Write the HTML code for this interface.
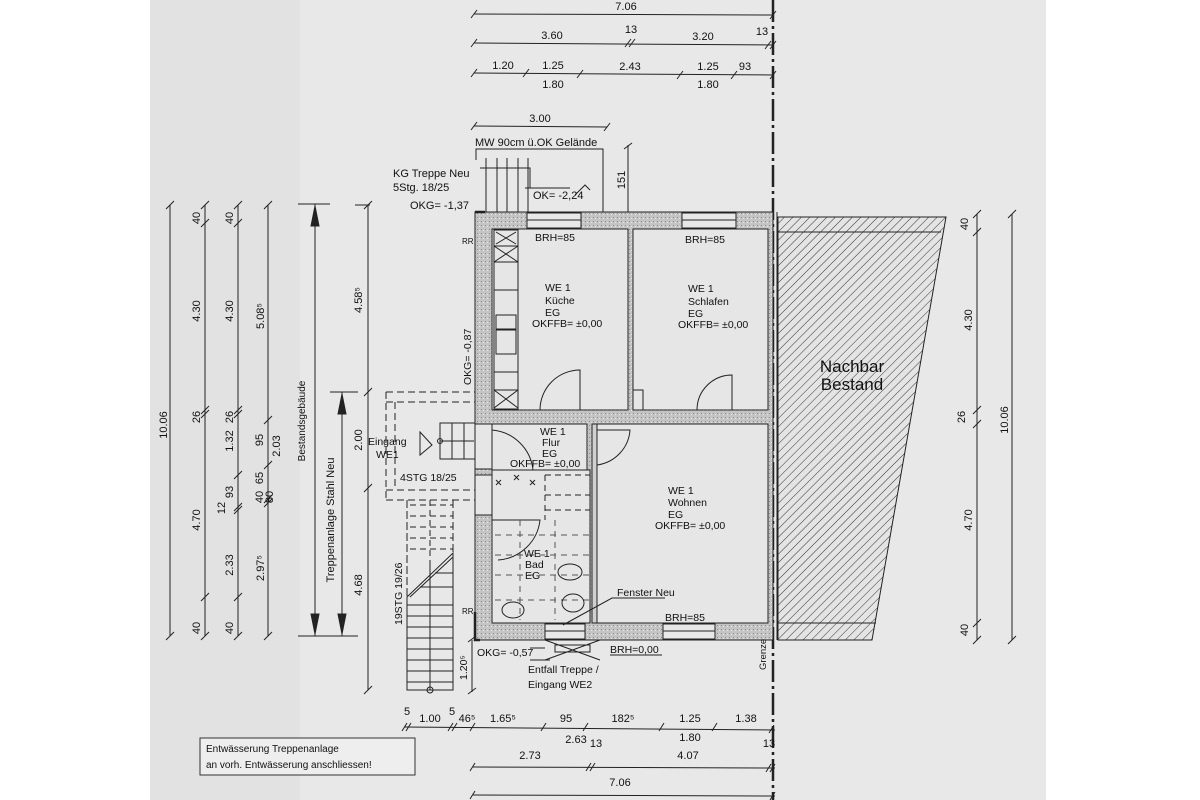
<!DOCTYPE html>
<html><head><meta charset="utf-8"><style>
html,body{margin:0;padding:0;background:#fff;}
svg{display:block;}
text{font-family:"Liberation Sans",sans-serif;fill:#111;}
</style></head><body>
<svg width="1200" height="800" viewBox="0 0 1200 800" xmlns="http://www.w3.org/2000/svg">
<defs>
<pattern id="hatch" width="6" height="6" patternUnits="userSpaceOnUse" patternTransform="rotate(45)">
<rect width="6" height="6" fill="#e4e4e4"/><line x1="0" y1="0" x2="0" y2="6" stroke="#333" stroke-width="1"/></pattern>
<pattern id="stip" width="4" height="4" patternUnits="userSpaceOnUse">
<rect width="4" height="4" fill="#c4c4c4"/><rect x="1" y="1" width="1" height="1" fill="#8a8a8a"/><rect x="3" y="2" width="1" height="1" fill="#e6e6e6"/></pattern>
</defs>
<rect x="0" y="0" width="1200" height="800" fill="#fff"/>
<rect x="150" y="0" width="896" height="800" fill="#e8e8e8"/>
<rect x="150" y="0" width="150" height="800" fill="#e2e2e2"/>

<g stroke="#222" stroke-width="1" fill="none">
<line x1="474" y1="14" x2="773" y2="15"/>
<line x1="474" y1="43" x2="773" y2="45"/>
<line x1="474" y1="73" x2="773" y2="75"/>
<path d="M471,18l6,-8M770,19l6,-8M471,47l6,-8M625,47l6,-8M629,47l6,-8M765,49l6,-8M770,49l6,-8M471,77l6,-8M523,77l6,-8M577,78l6,-8M677,79l6,-8M731,79l6,-8M770,79l6,-8"/>
<line x1="474" y1="126" x2="607" y2="127"/>
<path d="M471,130l6,-8M604,131l6,-8"/>
<line x1="628" y1="145" x2="628" y2="212"/>
<path d="M624,149l8,-6"/>
<line x1="773" y1="0" x2="773" y2="800" stroke-width="2.5" stroke-dasharray="22,4,3,4"/>
</g>
<g font-size="11" text-anchor="middle">
<text x="626" y="10">7.06</text>
<text x="552" y="39">3.60</text><text x="631" y="33">13</text><text x="703" y="40">3.20</text><text x="762" y="35">13</text>
<text x="503" y="69">1.20</text><text x="553" y="69">1.25</text><text x="553" y="88">1.80</text><text x="630" y="70">2.43</text><text x="708" y="70">1.25</text><text x="708" y="88">1.80</text><text x="745" y="70">93</text>
<text x="540" y="122">3.00</text>
<text transform="translate(625,180) rotate(-90)">151</text>
</g>

<g stroke="#222" fill="none" stroke-width="1">
<path d="M476,160V149H603V212"/>
<path d="M486,158V212M497,158V212M507,158V212M518,158V212M528,158V212"/>
<path d="M480,168H530V188"/>
<path d="M525,188H570M575,195l10,-10l5,5"/>
</g>
<text x="475" y="146" font-size="11">MW 90cm ü.OK Gelände</text>
<text x="393" y="177" font-size="11">KG Treppe Neu</text>
<text x="393" y="191" font-size="11">5Stg. 18/25</text>
<text x="410" y="209" font-size="11">OKG= -1,37</text>
<text x="533" y="199" font-size="11">OK= -2,24</text>
<text x="462" y="244" font-size="8">RR</text>
<text x="462" y="614" font-size="8">RR</text>

<rect x="475" y="212" width="298" height="428" fill="url(#stip)" stroke="#222"/>
<g fill="#e6e6e6" stroke="#222" stroke-width="1">
<rect x="492" y="229" width="136" height="181"/>
<rect x="633" y="229" width="135" height="181"/>
<rect x="492" y="424" width="95" height="46"/>
<rect x="492" y="470" width="98" height="153"/>
<rect x="597" y="424" width="171" height="199"/>
<rect x="475" y="424" width="17" height="45"/>
<rect x="475" y="475" width="17" height="40"/>
<rect x="592" y="424" width="5" height="199" fill="#d0d0d0"/>
</g>
<g fill="#e8e8e8" stroke="#222">
<rect x="527" y="213" width="54" height="15"/><line x1="527" y1="220" x2="581" y2="220"/>
<rect x="682" y="213" width="54" height="15"/><line x1="682" y1="220" x2="736" y2="220"/>
<rect x="545" y="624" width="40" height="15"/><line x1="545" y1="631" x2="585" y2="631"/>
<rect x="663" y="624" width="52" height="15"/><line x1="663" y1="631" x2="715" y2="631"/>
</g>
<g stroke="#222" fill="none">
<rect x="494" y="230" width="24" height="179"/>
<path d="M494,246H518M494,262H518M494,290H518M494,372H518M494,390H518"/>
<path d="M494,246L518,262M518,246L494,262M494,390L518,408M518,390L494,408M496,232L516,244M516,232L496,244"/>
<rect x="496" y="315" width="20" height="14"/><rect x="496" y="330" width="20" height="24"/>
<path d="M540,410A40,40 0 0 1 580,370V410"/>
<path d="M697,410A35,35 0 0 1 732,375V410"/>
<path d="M492,430A45,45 0 0 1 533,470"/>
<path d="M597,465A38,38 0 0 0 630,430H597"/>
<path d="M492,520H540A45,45 0 0 1 498,560"/>
<rect x="633" y="390" width="10" height="20"/>
<path d="M545,475H590M545,475V520M545,495H590M545,510H590" stroke-dasharray="6,4"/>
<path d="M495,535H590M495,555H590M495,575H590M495,600H590M520,520V620M555,520V620" stroke-dasharray="6,5" stroke="#555"/>
<ellipse cx="570" cy="572" rx="12" ry="8"/>
<ellipse cx="573" cy="603" rx="11" ry="9"/>
<ellipse cx="513" cy="610" rx="11" ry="8"/>
<path d="M496,480l5,5M501,480l-5,5M514,475l5,5M519,475l-5,5M530,480l5,5M535,480l-5,5"/>
<path d="M563,625L612,598H665"/>
<path d="M545,640L600,660M600,640L545,660M555,645H590V652H555ZM530,648h15M530,660h20"/>
<line x1="610" y1="655" x2="662" y2="655"/>
</g>

<polygon points="778,217 946,217 872,640 778,640" fill="url(#hatch)" stroke="#222"/>
<path d="M778,232H941M778,623H876" stroke="#222"/>
<line x1="777" y1="212" x2="777" y2="640" stroke="#222"/>
<text x="852" y="372" font-size="17" text-anchor="middle">Nachbar</text>
<text x="852" y="390" font-size="17" text-anchor="middle">Bestand</text>

<g font-size="10.5">
<text x="545" y="291">WE 1</text><text x="545" y="304">Küche</text><text x="545" y="316">EG</text><text x="532" y="327">OKFFB= ±0,00</text>
<text x="688" y="292">WE 1</text><text x="688" y="305">Schlafen</text><text x="688" y="317">EG</text><text x="678" y="328">OKFFB= ±0,00</text>
<text x="540" y="435">WE 1</text><text x="542" y="446">Flur</text><text x="542" y="457">EG</text><text x="510" y="467">OKFFB= ±0,00</text>
<text x="668" y="494">WE 1</text><text x="668" y="506">Wohnen</text><text x="668" y="518">EG</text><text x="655" y="529">OKFFB= ±0,00</text>
<text x="524" y="557">WE 1</text><text x="525" y="568">Bad</text><text x="525" y="579">EG</text>
<text x="535" y="241">BRH=85</text><text x="685" y="243">BRH=85</text><text x="665" y="621">BRH=85</text>
<text x="617" y="596">Fenster Neu</text>
<text x="477" y="656">OKG= -0,57</text><text x="610" y="653">BRH=0,00</text>
<text x="528" y="673">Entfall Treppe /</text><text x="528" y="688">Eingang WE2</text>
<text transform="translate(471,385) rotate(-90)">OKG= -0,87</text>
<text transform="translate(766,670) rotate(-90)" font-size="9.5">Grenze</text>
<text transform="translate(467,680) rotate(-90)">1.20⁵</text>
<text x="368" y="445">Eingang</text><text x="376" y="458">WE1</text>
<text x="400" y="481">4STG 18/25</text>
<text transform="translate(402,625) rotate(-90)">19STG 19/26</text>
</g>

<g stroke="#222" fill="none">
<path d="M420,432L432,445L420,455Z"/>
<rect x="440" y="423" width="35" height="36"/><path d="M452,423V459M464,423V459M440,441H474"/>
<circle cx="440" cy="441" r="2.5"/>
<path d="M386,392H475M386,402H475M386,490H475M386,500H475M386,392V500M395,402V490" stroke-dasharray="7,4"/>
<path d="M407,500V690M453,500V553" stroke-dasharray="8,3"/>
<path d="M410,505H453M410,516H453M410,527H453M410,538H453M410,549H453M430,500V560" stroke-dasharray="6,4"/>
<path d="M407,597L453,553V690H407Z"/>
<path d="M410,597L453,557"/>
<path d="M407,605H453M407,616H453M407,627H453M407,638H453M407,649H453M407,660H453M407,671H453M407,682H453M420,587H453M435,573H453M430,560V690"/>
<circle cx="430" cy="690" r="3"/>
<path d="M475,612V640H480" stroke-width="2.5"/>
<path d="M475,212H485" stroke-width="2.5"/>
<line x1="472" y1="640" x2="472" y2="692"/><path d="M468,694l8,-6M468,642l8,-6"/>
</g>

<g stroke="#222" fill="none">
<line x1="170" y1="205" x2="170" y2="636"/>
<line x1="205" y1="205" x2="205" y2="636"/>
<line x1="238" y1="205" x2="238" y2="636"/>
<line x1="268" y1="205" x2="268" y2="636"/>
<path d="M166,209l8,-8M166,640l8,-8M201,209l8,-8M201,227l8,-8M201,414l8,-8M201,418l8,-8M201,601l8,-8M201,640l8,-8M234,209l8,-8M234,227l8,-8M234,414l8,-8M234,418l8,-8M234,479l8,-8M234,511l8,-8M234,514l8,-8M234,601l8,-8M234,640l8,-8M264,209l8,-8M264,424l8,-8M264,469l8,-8M264,503l8,-8M264,507l8,-8M264,640l8,-8"/>
<line x1="298" y1="204" x2="330" y2="204"/><line x1="298" y1="636" x2="330" y2="636"/>
<line x1="315" y1="204" x2="315" y2="636"/>
<path d="M311,226L315,206L319,226ZM311,614L315,634L319,614Z" fill="#222"/>
<line x1="330" y1="392" x2="358" y2="392"/><line x1="330" y1="636" x2="358" y2="636"/>
<line x1="342" y1="392" x2="342" y2="636"/>
<path d="M338,414L342,394L346,414ZM338,614L342,634L346,614Z" fill="#222"/>
<line x1="368" y1="205" x2="368" y2="690"/>
<path d="M364,209l8,-8M364,396l8,-8M364,492l8,-8M364,694l8,-8"/>
<line x1="355" y1="205" x2="370" y2="205"/>
</g>
<g font-size="11" text-anchor="middle">
<text transform="translate(167,425) rotate(-90)">10.06</text>
<text transform="translate(200,218) rotate(-90)">40</text>
<text transform="translate(200,311) rotate(-90)">4.30</text>
<text transform="translate(200,417) rotate(-90)">26</text>
<text transform="translate(200,520) rotate(-90)">4.70</text>
<text transform="translate(200,628) rotate(-90)">40</text>
<text transform="translate(233,218) rotate(-90)">40</text>
<text transform="translate(233,311) rotate(-90)">4.30</text>
<text transform="translate(233,417) rotate(-90)">26</text>
<text transform="translate(233,441) rotate(-90)">1.32</text>
<text transform="translate(233,492) rotate(-90)">93</text>
<text transform="translate(225,508) rotate(-90)">12</text>
<text transform="translate(233,565) rotate(-90)">2.33</text>
<text transform="translate(233,628) rotate(-90)">40</text>
<text transform="translate(264,316) rotate(-90)">5.08⁵</text>
<text transform="translate(263,440) rotate(-90)">95</text>
<text transform="translate(280,446) rotate(-90)">2.03</text>
<text transform="translate(263,478) rotate(-90)">65</text>
<text transform="translate(263,497) rotate(-90)">40</text>
<text transform="translate(273,497) rotate(-90)">80</text>
<text transform="translate(264,568) rotate(-90)">2.97⁵</text>
<text transform="translate(305,421) rotate(-90)" font-size="10">Bestandsgebäude</text>
<text transform="translate(334,520) rotate(-90)">Treppenanlage Stahl Neu</text>
<text transform="translate(362,300) rotate(-90)">4.58⁵</text>
<text transform="translate(362,440) rotate(-90)">2.00</text>
<text transform="translate(362,585) rotate(-90)">4.68</text>
</g>

<g stroke="#222" fill="none">
<line x1="977" y1="214" x2="977" y2="640"/>
<line x1="1012" y1="214" x2="1012" y2="640"/>
<path d="M973,218l8,-8M973,236l8,-8M973,414l8,-8M973,428l8,-8M973,627l8,-8M973,644l8,-8M1008,218l8,-8M1008,644l8,-8"/>
</g>
<g font-size="11" text-anchor="middle">
<text transform="translate(968,224) rotate(-90)">40</text>
<text transform="translate(972,320) rotate(-90)">4.30</text>
<text transform="translate(965,417) rotate(-90)">26</text>
<text transform="translate(972,520) rotate(-90)">4.70</text>
<text transform="translate(968,630) rotate(-90)">40</text>
<text transform="translate(1008,420) rotate(-90)">10.06</text>
</g>

<g stroke="#222" fill="none">
<line x1="404" y1="727" x2="775" y2="730"/>
<line x1="473" y1="767" x2="775" y2="768"/>
<line x1="473" y1="795" x2="775" y2="796"/>
<path d="M402,731l5,-8M406,731l5,-8M448,731l5,-8M452,731l5,-8M470,731l5,-8M541,731l5,-8M583,731l5,-8M659,731l5,-8M712,731l5,-8M769,733l5,-8M470,771l5,-8M586,771l5,-8M590,771l5,-8M766,772l5,-8M770,772l5,-8M470,799l5,-8M770,800l5,-8"/>
</g>
<g font-size="11" text-anchor="middle">
<text x="407" y="715">5</text><text x="430" y="722">1.00</text><text x="452" y="715">5</text><text x="467" y="722">46⁵</text>
<text x="503" y="722">1.65⁵</text><text x="566" y="722">95</text><text x="623" y="722">182⁵</text><text x="690" y="722">1.25</text><text x="746" y="722">1.38</text>
<text x="576" y="743">2.63</text><text x="690" y="741">1.80</text>
<text x="530" y="759">2.73</text><text x="596" y="747">13</text><text x="688" y="759">4.07</text><text x="769" y="747">13</text>
<text x="620" y="786">7.06</text>
</g>
<rect x="200" y="738" width="215" height="37" fill="#eeeeee" stroke="#333"/>
<text x="206" y="752" font-size="10">Entwässerung Treppenanlage</text>
<text x="206" y="768" font-size="10">an vorh. Entwässerung anschliessen!</text>
</svg>
</body></html>
